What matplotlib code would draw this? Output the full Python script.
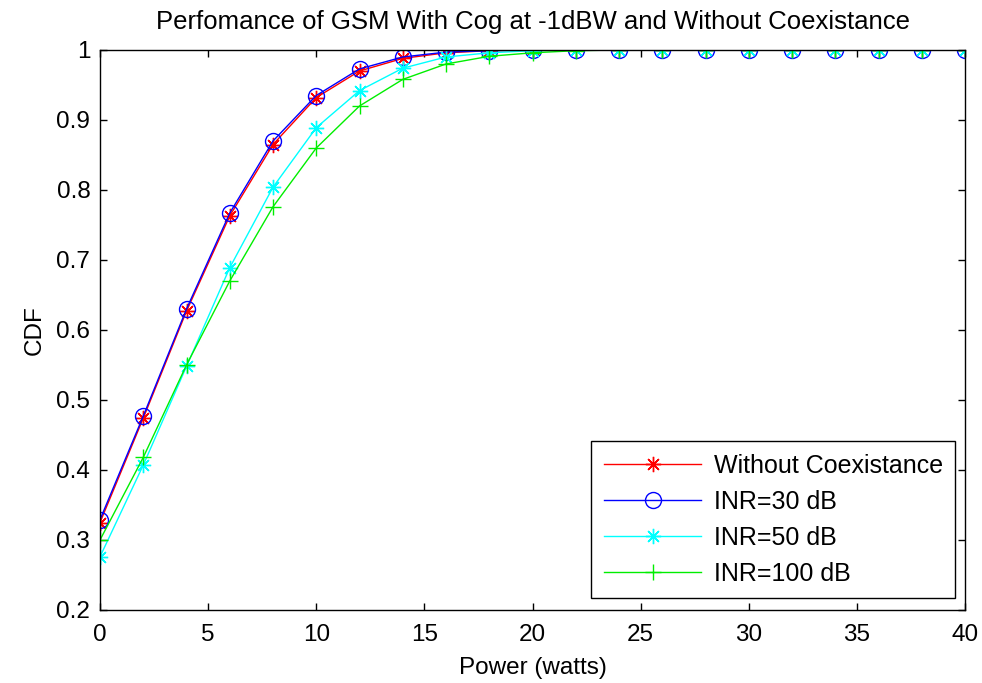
import numpy as np
import matplotlib
matplotlib.use("Agg")
import matplotlib.pyplot as plt

plt.rcParams["font.family"] = ["Liberation Sans", "DejaVu Sans"]

power = np.arange(0, 41, 2)

cdf_without = np.array([0.325, 0.474, 0.627, 0.763, 0.865, 0.932, 0.970, 0.988, 0.996, 0.999,
                        1, 1, 1, 1, 1, 1, 1, 1, 1, 1, 1])
cdf_inr30 = np.array([0.329, 0.477, 0.630, 0.767, 0.870, 0.935, 0.973, 0.990, 0.997, 0.999,
                      1, 1, 1, 1, 1, 1, 1, 1, 1, 1, 1])
cdf_inr50 = np.array([0.276, 0.407, 0.548, 0.689, 0.804, 0.889, 0.942, 0.974, 0.990, 0.996,
                      0.999, 1, 1, 1, 1, 1, 1, 1, 1, 1, 1])
cdf_inr100 = np.array([0.300, 0.418, 0.550, 0.670, 0.776, 0.860, 0.920, 0.958, 0.980, 0.991,
                       0.996, 0.999, 1, 1, 1, 1, 1, 1, 1, 1, 1])

fig = plt.figure(figsize=(9.82, 6.83), dpi=100)
ax = fig.add_axes([100 / 982, 73 / 683, 865 / 982, 560 / 683])

asterisk = (8, 2, 0)
ax.plot(power, cdf_without, color="red", marker=asterisk, markersize=11, lw=1,
        markeredgewidth=1, label="Without Coexistance")
ax.plot(power, cdf_inr30, color="blue", marker="o", markersize=11.5, lw=1,
        markerfacecolor="none", label="INR=30 dB")
ax.plot(power, cdf_inr50, color="cyan", marker=asterisk, markersize=11, lw=1,
        markeredgewidth=1, label="INR=50 dB")
ax.plot(power, cdf_inr100, color="#00ee00", marker="+", markersize=12, lw=1,
        markeredgewidth=1, label="INR=100 dB")

ax.set_xlim(0, 40)
ax.set_ylim(0.2, 1)
ax.set_xticks(np.arange(0, 41, 5))
ax.set_yticks(np.arange(0.2, 1.01, 0.1))
ax.set_yticklabels(["0.2", "0.3", "0.4", "0.5", "0.6", "0.7", "0.8", "0.9", "1"])
ax.tick_params(direction="in", top=True, right=True, labelsize=17.5, length=5, width=1)
ax.tick_params(axis="x", pad=10)
ax.tick_params(axis="y", pad=7)
for s in ax.spines.values():
    s.set_linewidth(1)

ax.set_xlabel("Power (watts)", fontsize=17.5, labelpad=8)
ax.set_ylabel("CDF", fontsize=17.5, labelpad=8)
ax.set_title("Perfomance of GSM With Cog at -1dBW and Without Coexistance",
             fontsize=18.5, pad=15)

leg = ax.legend(loc="lower right", fontsize=18, fancybox=False, edgecolor="black",
                framealpha=1, handlelength=3.9, handletextpad=0.5, borderpad=0.5,
                labelspacing=0.48, bbox_to_anchor=(0.989, 0.021), borderaxespad=0)
leg.get_frame().set_linewidth(1)

fig.savefig("out.png")
